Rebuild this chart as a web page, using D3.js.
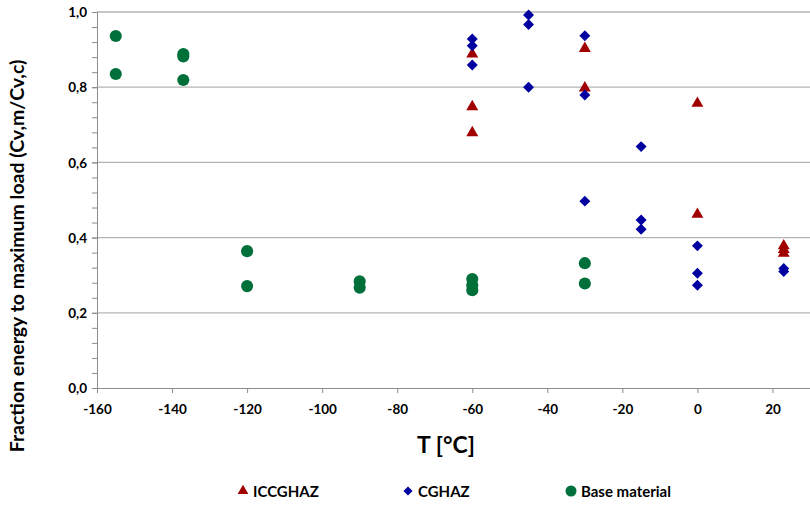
<!DOCTYPE html>
<html>
<head>
<meta charset="utf-8">
<script src="https://cdn.jsdelivr.net/npm/d3@7/dist/d3.min.js"></script>
<style>
  html, body { margin: 0; padding: 0; background: #fff; }
  svg { display: block; font-family: Lato, "Open Sans", sans-serif; font-weight: bold; }
</style>
</head>
<body>
<svg id="chart" width="810" height="506"></svg>
<script>
// Temperature ticks and fraction ticks
const xTicks = [-160, -140, -120, -100, -80, -60, -40, -20, 0, 20];
const yTicks = [0, 0.2, 0.4, 0.6, 0.8, 1.0];

// ICCGHAZ
const iccTemp = [-60, -60, -60, -30, -30, 0, 0, 23, 23, 23];
const iccFrac = [0.888, 0.748, 0.679, 0.903, 0.798, 0.757, 0.462, 0.378, 0.368, 0.358];

// CGHAZ
const cgTemp = [-60, -60, -60, -45, -45, -45, -30, -30, -30, -15, -15, -15, 0, 0, 0, 23, 23];
const cgFrac = [0.928, 0.910, 0.859, 0.992, 0.967, 0.800, 0.937, 0.779, 0.497, 0.642, 0.447, 0.422, 0.378, 0.305, 0.273, 0.318, 0.310];

// Base material
const baseTemp = [-155, -155, -137, -137, -137, -120, -120, -90, -90, -60, -60, -60, -30, -30];
const baseFrac = [0.936, 0.835, 0.888, 0.882, 0.819, 0.364, 0.271, 0.284, 0.267, 0.290, 0.273, 0.260, 0.332, 0.278];

const seriesNames = ["ICCGHAZ", "CGHAZ", "Base material"];
const seriesColors = ["#A00000", "#0000A0", "#00703A"];

const svg = d3.select("#chart");
const plotL = 97, plotR = 810, plotT = 12, plotB = 388;

const x = d3.scaleLinear().domain([-160, 30]).range([plotL, plotR]);
const y = d3.scaleLinear().domain([0, 1]).range([plotB, plotT]);

// horizontal gridlines
svg.append("g")
  .selectAll("line")
  .data(yTicks.filter(d => d > 0))
  .join("line")
  .attr("x1", plotL).attr("x2", plotR)
  .attr("y1", d => y(d)).attr("y2", d => y(d))
  .attr("stroke", "#b4b4b4").attr("stroke-width", 1.3);

// y axis with minor ticks
const yMinor = d3.range(0, 1.0001, 0.04);
svg.append("g")
  .attr("transform", `translate(${plotL},0)`)
  .call(d3.axisLeft(y).tickValues(yMinor).tickSize(5).tickFormat(""))
  .call(g => g.select(".domain").attr("stroke", "#8c8c8c"))
  .call(g => g.selectAll(".tick line").attr("stroke", "#8c8c8c"));

svg.append("g")
  .attr("transform", `translate(${plotL},0)`)
  .call(d3.axisLeft(y).tickValues(yTicks).tickSize(5)
    .tickFormat(d => d.toFixed(1).replace(".", ",")))
  .call(g => g.select(".domain").remove())
  .call(g => g.selectAll(".tick line").attr("stroke", "#8c8c8c"))
  .call(g => g.selectAll(".tick text")
    .attr("x", -10).attr("dy", "0.35em")
    .attr("fill", "#000").attr("font-size", 13.5)
    .attr("font-family", "Lato, 'Open Sans', sans-serif").attr("font-weight", "bold"));

// x axis
svg.append("g")
  .attr("transform", `translate(0,${plotB})`)
  .call(d3.axisBottom(x).tickValues(xTicks).tickSize(5).tickFormat(d => String(d)))
  .call(g => g.select(".domain").attr("stroke", "#8c8c8c"))
  .call(g => g.selectAll(".tick line").attr("stroke", "#8c8c8c"))
  .call(g => g.selectAll(".tick text")
    .attr("y", 16).attr("dy", "0.71em")
    .attr("fill", "#000").attr("font-size", 13.5)
    .attr("font-family", "Lato, 'Open Sans', sans-serif").attr("font-weight", "bold"));

// axis titles
svg.append("text")
  .attr("x", 446).attr("y", 453)
  .attr("text-anchor", "middle")
  .attr("font-size", 23)
  .text("T [°C]");

svg.append("text")
  .attr("transform", "translate(24,256) rotate(-90)")
  .attr("text-anchor", "middle")
  .attr("font-size", 19.5)
  .text("Fraction energy to maximum load (Cv,m/Cv,c)");

// markers
const symTri = d3.symbol().type(d3.symbolTriangle).size(62);
const symDia = d3.symbol().type(d3.symbolSquare).size(60);
const symCir = d3.symbol().type(d3.symbolCircle).size(115);

function drawSeries(temps, fracs, sym, color, rot) {
  svg.append("g")
    .selectAll("path")
    .data(temps.map((t, i) => [t, fracs[i]]))
    .join("path")
    .attr("d", sym)
    .attr("transform", d => `translate(${x(d[0])},${y(d[1])}) rotate(${rot})`)
    .attr("fill", color);
}
drawSeries(iccTemp, iccFrac, symTri, seriesColors[0], 0);
drawSeries(cgTemp, cgFrac, symDia, seriesColors[1], 45);
drawSeries(baseTemp, baseFrac, symCir, seriesColors[2], 0);

// legend
const legendX = [243, 408, 571];
const legendSyms = [
  d3.symbol().type(d3.symbolTriangle).size(50),
  d3.symbol().type(d3.symbolSquare).size(42),
  d3.symbol().type(d3.symbolCircle).size(95)
];
const legendRot = [0, 45, 0];
const lg = svg.append("g");
seriesNames.forEach((name, i) => {
  lg.append("path")
    .attr("d", legendSyms[i])
    .attr("transform", `translate(${legendX[i]},491) rotate(${legendRot[i]})`)
    .attr("fill", seriesColors[i]);
  lg.append("text")
    .attr("x", legendX[i] + 10).attr("y", 497)
    .attr("font-size", 15)
    .text(name);
});
</script>
</body>
</html>
